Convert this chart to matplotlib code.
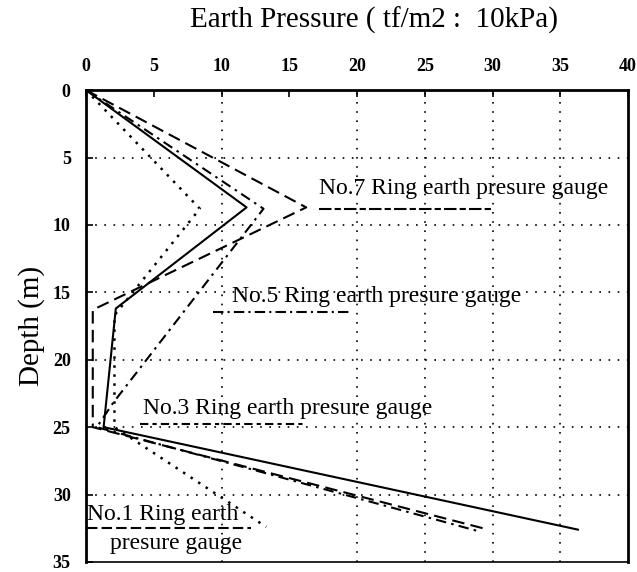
import matplotlib.pyplot as plt

# earth pressure (tf/m2) vs depth (m), one list pair per gauge line
solid_pressure = [0, 11.85, 2.2, 1.3, 36.3]
solid_depth = [0, 8.7, 16.2, 25.0, 32.6]

dashed_pressure = [0, 16.25, 0.5, 0.5, 29.3]
dashed_depth = [0, 8.7, 16.3, 25.0, 32.5]

dashdot_pressure = [0, 13.1, 2.0, 0.8, 28.9]
dashdot_depth = [0, 8.8, 23.2, 25.0, 32.7]

dotted_pressure = [0, 8.4, 2.1, 2.1, 13.3]
dotted_depth = [0, 8.8, 16.7, 25.0, 32.4]

x_ticks = [0, 5, 10, 15, 20, 25, 30, 35, 40]
y_ticks = [0, 5, 10, 15, 20, 25, 30, 35]
x_grid = [10, 20, 25, 30, 35]
y_grid = [5, 10, 15, 20, 25, 30]

# label text, text anchor (x, y), sample line x-range, sample line depth, sample dashes
gauge_labels = [
    ("No.7 Ring earth presure gauge", (17.2, 7.3), (17.2, 29.9), 8.8, (6, 1.5, 3, 1.5)),
    ("No.5 Ring earth presure gauge", (10.75, 15.3), (9.35, 19.4), 16.45, (5, 2, 1, 2)),
    ("No.3 Ring earth presure gauge", (4.2, 23.65), (4.0, 16.1), 24.8, (4, 2, 2, 2)),
    ("No.1 Ring earth", (0.1, 31.5), (0.1, 12.2), 32.5, (5, 2)),
]

SERIF = ["Liberation Serif", "DejaVu Serif"]

fig = plt.figure(figsize=(6.37, 5.72), dpi=100)
ax = fig.add_axes([0.135, 0.0175, 0.851, 0.825])

lw = 1.5
ax.plot(solid_pressure, solid_depth, color="black", linewidth=lw, linestyle="-")
ax.plot(dashed_pressure, dashed_depth, color="black", linewidth=lw, dashes=(6, 3))
ax.plot(dashdot_pressure, dashdot_depth, color="black", linewidth=lw, dashes=(5, 2.5, 1.2, 2.5))
ax.plot(dotted_pressure, dotted_depth, color="black", linewidth=lw + 0.3, dashes=(1, 2.6))

for xg in x_grid:
    ax.axvline(xg, color="black", linewidth=1.2, dashes=(1, 4.5), zorder=0)
for yg in y_grid:
    ax.axhline(yg, color="black", linewidth=1.2, dashes=(1, 4.5), zorder=0)

for text, (tx, ty), (sx0, sx1), sy, dash in gauge_labels:
    ax.text(tx, ty, text, fontsize=17, family=SERIF, va="center", ha="left")
    ax.plot([sx0, sx1], [sy, sy], color="black", linewidth=1.5, dashes=dash)
ax.text(1.8, 33.6, "presure gauge", fontsize=17, family=SERIF, va="center", ha="left")

ax.set_xlim(0, 40)
ax.set_ylim(35, 0)
ax.xaxis.tick_top()
ax.xaxis.set_label_position("top")
ax.set_xticks(x_ticks)
ax.set_yticks(y_ticks)
ax.tick_params(direction="in", length=5, width=1.2, labelsize=13, pad=11)
for lab in ax.get_xticklabels() + ax.get_yticklabels():
    lab.set_fontweight("bold")
    lab.set_family(SERIF)

ax.set_xlabel("Earth Pressure ( tf/m2 :  10kPa)", fontsize=21, family=SERIF,
              ha="left", va="center")
ax.xaxis.set_label_coords(0.192, 1.148)
ax.set_ylabel("Depth (m)", fontsize=21, family=SERIF, va="center")
ax.yaxis.set_label_coords(-0.1, 0.5)

for side in ["left", "top", "right"]:
    ax.spines[side].set_linewidth(2)
ax.spines["bottom"].set_linewidth(1.2)

fig.savefig("out.png", dpi=100)
